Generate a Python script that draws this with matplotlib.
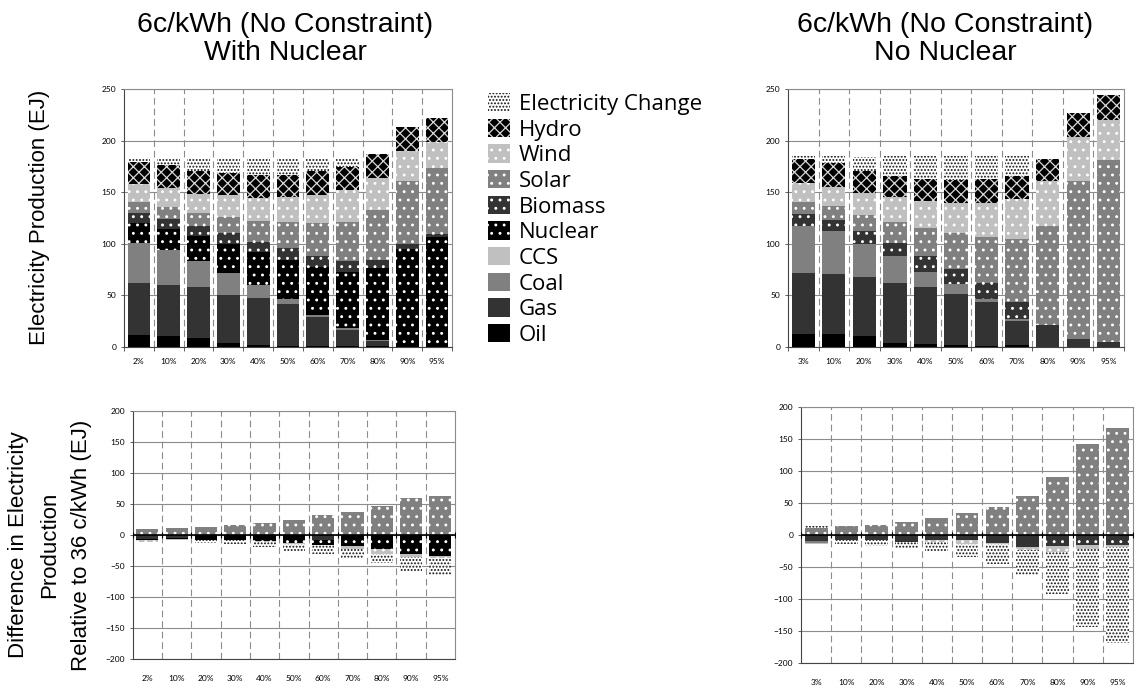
import numpy as np
import matplotlib
matplotlib.use('Agg')
import matplotlib.pyplot as plt
from matplotlib.patches import Patch

plt.rcParams['hatch.linewidth'] = 0.9

# ---- data (EJ) ----
labels_nuc = ['2%', '10%', '20%', '30%', '40%', '50%', '60%', '70%', '80%', '90%', '95%']
labels_nonuc = ['3%', '10%', '20%', '30%', '40%', '50%', '60%', '70%', '80%', '90%', '95%']

# top left: with nuclear
tl_oil = [11, 10, 8, 4, 2, 1, 1, 1, 0.5, 0, 0]
tl_gas = [51, 50, 49.5, 46.5, 45, 40, 27.5, 15, 5, 0, 0]
tl_coal = [39, 34, 26, 21.5, 12.5, 5, 2, 2, 0.7, 0, 0]
tl_ccs = [0, 0, 0, 0, 0, 0, 0, 0, 0, 0, 0]
tl_nuclear = [19.5, 20, 24.5, 27.5, 32, 38, 46.5, 55, 70, 94.5, 106.5]
tl_biomass = [9, 10, 9.5, 10.5, 10.5, 11.5, 11.5, 10, 8, 5, 2.5]
tl_solar = [11, 12, 12.5, 15.5, 20.5, 25.5, 32, 38, 48.5, 61.5, 65]
tl_wind = [17.5, 18, 18.5, 21.5, 22, 24.5, 27, 31, 31, 29.5, 25]
tl_hydro = [21, 22, 22.5, 22, 22.5, 21.5, 23, 22.5, 23.5, 23, 23]
tl_change = [4, 6.5, 11.5, 14, 15.5, 15.5, 12, 9, 0, 0, 0]

# top right: no nuclear
tr_oil = [12.5, 12.5, 10.5, 4, 3, 2, 1, 2, 0, 0, 0]
tr_gas = [59.5, 58.5, 57.5, 57.5, 54.5, 49.5, 42.5, 22.5, 21.5, 7, 5]
tr_coal = [45.5, 41, 32, 26.5, 15.5, 9, 2.5, 2, 0, 0, 0]
tr_ccs = [0, 0, 0, 0, 0, 0, 0, 0, 0, 0, 0]
tr_nuclear = [0, 0, 0, 0, 0, 0, 0, 0, 0, 0, 0]
tr_biomass = [11, 11, 12.5, 12.5, 15.5, 14.5, 15.5, 16.5, 0, 0, 0]
tr_solar = [12.5, 13.5, 15.5, 20.5, 26.5, 35, 45.5, 62, 96, 154, 176]
tr_wind = [18, 19, 21, 24, 26.5, 29.5, 33, 38.5, 43, 43, 39]
tr_hydro = [23, 23, 22, 21, 21, 22, 22.5, 22.5, 22, 22.5, 24]
tr_change = [3, 7, 13.5, 19.5, 22.5, 23.5, 22.5, 19, 0, 0, 0]

# bottom left: difference, with nuclear
bl_solar = [10, 12, 13.5, 16.5, 20, 24.5, 33, 37.5, 47, 60, 63.5]
bl_gas = [-6, -4, 0, 0, 0, 0, -8.5, 0, 0, 0, 0]
bl_nuclear = [-1.5, -1.5, -8.5, -8.5, -10, -13, -7.5, -17, -22.5, -30, -33.5]
bl_wind = [-4, -2, 0, 0, -1, -1.5, 0, -5.5, -7.5, -5.5, -3]
bl_change = [2, 0, -4.5, -6.5, -8.5, -10.5, -15, -16, -15, -24.5, -27]

# bottom right: difference, no nuclear
br_solar = [11, 14, 15.5, 20.5, 26.5, 34, 44, 61, 90.5, 143, 167]
br_gas = [-9, -7, -8, -10, -7, -7, -13, -18, 0, 0, 0]
br_coal = [-2.5, 0, 0, 0, -1, -1, 0, 0, 0, 0, 0]
br_biomass = [0, 0, 0, 0, 0, 0, 0, 0, -17, -15, -15]
br_wind = [-3, 0, 0, 0, -2, -6.5, -1, -5, -9.5, -6, -4]
br_change = [2.5, -7, -8.5, -10.5, -16, -19.5, -31, -38.5, -65, -123, -149]

# ---- styles ----
STYLES = {
    'Electricity Change': ('white', '.....', '#111111'),
    'Hydro': ('black', 'xxx', '#d8d8d8'),
    'Wind': ('#c0c0c0', '..', 'white'),
    'Solar': ('#808080', '..', 'white'),
    'Biomass': ('#333333', '..', 'white'),
    'Nuclear': ('black', '..', 'white'),
    'CCS': ('#c0c0c0', None, '#c0c0c0'),
    'Coal': ('#808080', None, '#808080'),
    'Gas': ('#333333', None, '#333333'),
    'Oil': ('black', None, 'black'),
}
W, H = 1139, 688
TICK_FONT = dict(family='Lato', size=6)


def box(l, t, r, b):
    return [l / W, 1 - b / H, (r - l) / W, (b - t) / H]


def stack(ax, series):
    x = np.arange(len(series[0][1]))
    pos = np.zeros(len(x))
    neg = np.zeros(len(x))
    for name, vals in series:
        v = np.asarray(vals, float)
        bottom = np.where(v >= 0, pos, neg)
        fc, hatch, hc = STYLES[name]
        ax.bar(x, v, 0.76, bottom=bottom, color=fc, edgecolor=hc,
               linewidth=0, hatch=hatch, zorder=3)
        pos += np.clip(v, 0, None)
        neg += np.clip(v, None, 0)
    return x


def frame(ax, labels, ylim, step, diff=False):
    n = len(labels)
    ax.set_xlim(-0.5, n - 0.5)
    ax.set_ylim(*ylim)
    ax.set_yticks(np.arange(ylim[0], ylim[1] + 1, step))
    ax.yaxis.grid(True, color='#8c8c8c', lw=0.8, zorder=0)
    ax.set_axisbelow(True)
    for b in np.arange(0.5, n - 0.5):
        ax.axvline(b, color='#8c8c8c', lw=0.8, dashes=(6, 3.5), zorder=1)
    ax.set_xticks(range(n))
    ax.set_xticklabels(labels, fontdict=TICK_FONT)
    for t in ax.get_yticklabels():
        t.set_fontfamily('Lato')
        t.set_fontsize(6)
    ax.tick_params(axis='y', length=2.5, width=0.6, pad=3, color='#444')
    for s in ax.spines.values():
        s.set_color('#8c8c8c')
        s.set_linewidth(0.8)
    ax.spines['left'].set_color('#444')
    ax.spines['bottom'].set_color('#444')
    if diff:
        ax.tick_params(axis='x', length=0, pad=11)
        ax.axhline(0, color='black', lw=1.2, zorder=4)
        bounds = np.arange(-0.5, n)
        ax.plot(bounds, np.zeros(len(bounds)), ls='none', marker='|',
                ms=5, mew=0.8, color='black', zorder=4)
    else:
        ax.tick_params(axis='x', length=0, pad=8)
        ax.set_xticks(np.arange(-0.5, n), minor=True)
        ax.tick_params(axis='x', which='minor', length=3, width=0.6, color='#444')


fig = plt.figure(figsize=(W / 100, H / 100), dpi=100)

# top left
ax1 = fig.add_axes(box(124, 89.3, 452, 346.7))
stack(ax1, [('Oil', tl_oil), ('Gas', tl_gas), ('Coal', tl_coal), ('CCS', tl_ccs),
            ('Nuclear', tl_nuclear), ('Biomass', tl_biomass), ('Solar', tl_solar),
            ('Wind', tl_wind), ('Hydro', tl_hydro), ('Electricity Change', tl_change)])
frame(ax1, labels_nuc, (0, 250), 50)

# top right
ax2 = fig.add_axes(box(788, 89.3, 1124, 346.7))
stack(ax2, [('Oil', tr_oil), ('Gas', tr_gas), ('Coal', tr_coal), ('CCS', tr_ccs),
            ('Nuclear', tr_nuclear), ('Biomass', tr_biomass), ('Solar', tr_solar),
            ('Wind', tr_wind), ('Hydro', tr_hydro), ('Electricity Change', tr_change)])
frame(ax2, labels_nonuc, (0, 250), 50)

# bottom left
ax3 = fig.add_axes(box(132.7, 411, 455, 659.3))
stack(ax3, [('Solar', bl_solar), ('Gas', bl_gas), ('Nuclear', bl_nuclear),
            ('Wind', bl_wind), ('Electricity Change', bl_change)])
frame(ax3, labels_nuc, (-200, 200), 50, diff=True)

# bottom right
ax4 = fig.add_axes(box(801, 407, 1133, 663.3))
stack(ax4, [('Solar', br_solar), ('Gas', br_gas), ('Coal', br_coal),
            ('Biomass', br_biomass), ('Wind', br_wind), ('Electricity Change', br_change)])
frame(ax4, labels_nonuc, (-200, 200), 50, diff=True)

# titles and axis labels
tfont = dict(family='Liberation Sans', size=20.5, ha='center', va='baseline')
fig.text(285 / W, 1 - 31.7 / H, '6c/kWh (No Constraint)', **tfont)
fig.text(285 / W, 1 - 60 / H, 'With Nuclear', **tfont)
fig.text(945 / W, 1 - 31.7 / H, '6c/kWh (No Constraint)', **tfont)
fig.text(945 / W, 1 - 60 / H, 'No Nuclear', **tfont)

lfont = dict(family='Liberation Sans', size=16, ha='center', va='center', rotation=90)
fig.text(40 / W, 1 - 217 / H, 'Electricity Production (EJ)', **lfont)
fig.text(50 / W, 1 - 545 / H,
         'Difference in Electricity\nProduction\nRelative to 36 c/kWh (EJ)',
         linespacing=1.65, multialignment='center', **lfont)

# legend
order = ['Electricity Change', 'Hydro', 'Wind', 'Solar', 'Biomass',
         'Nuclear', 'CCS', 'Coal', 'Gas', 'Oil']
handles = [Patch(facecolor=STYLES[k][0], edgecolor=STYLES[k][2], hatch=STYLES[k][1],
                 linewidth=0) for k in order]
fig.legend(handles, order, loc='upper left', bbox_to_anchor=(488 / W, 1 - 93 / H),
           frameon=False, prop={'family': 'Open Sans', 'size': 16},
           handlelength=1.0, handleheight=0.9, handletextpad=0.4,
           labelspacing=0.17, borderpad=0, borderaxespad=0)

fig.savefig('out.png', dpi=100, facecolor='white')
